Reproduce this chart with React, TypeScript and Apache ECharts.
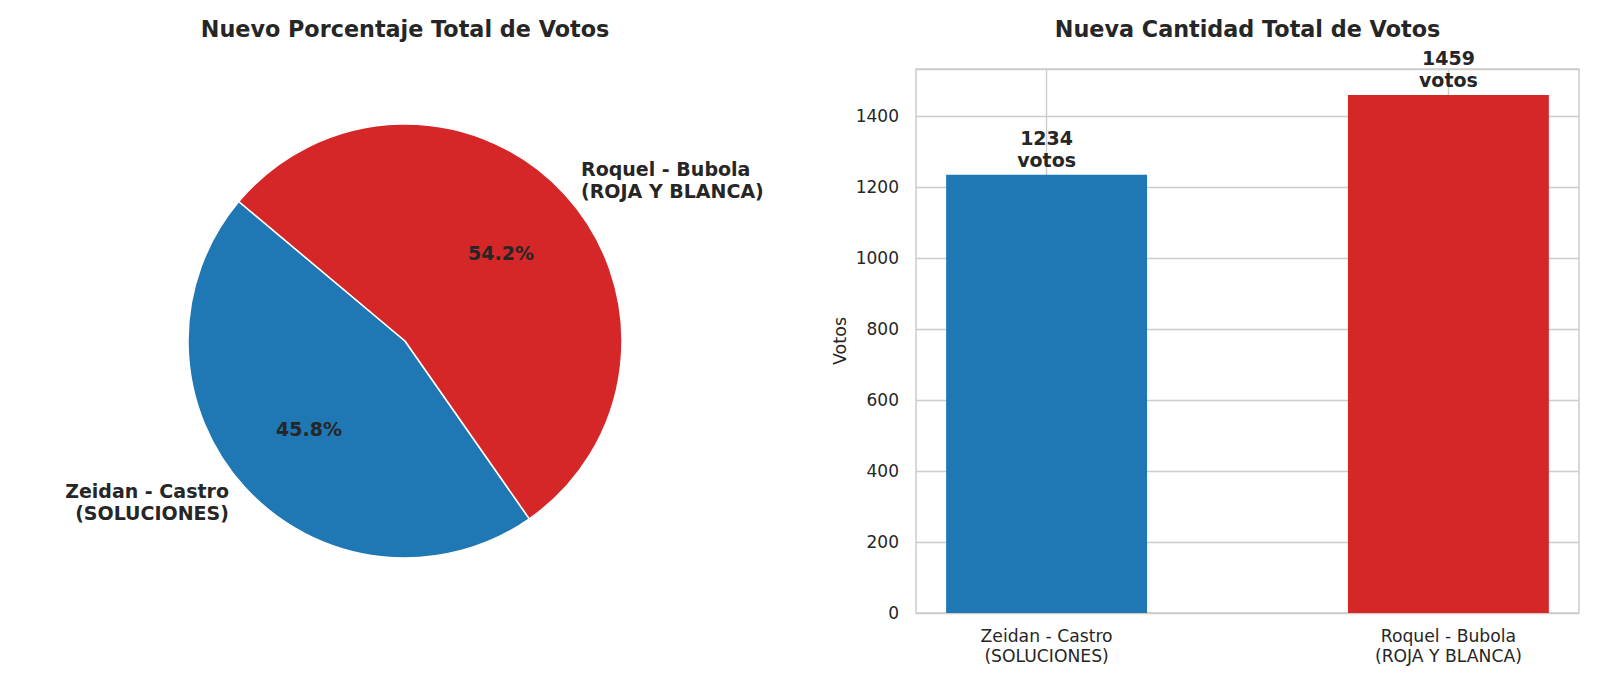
import React, { useEffect, useRef } from "react";
import * as echarts from "echarts";

// Candidates, their vote counts and party colours
const candidates = ["Zeidan - Castro\n(SOLUCIONES)", "Roquel - Bubola\n(ROJA Y BLANCA)"];
const votes = [1234, 1459];
const colors = ["#1f77b4", "#d62728"];
const positions = [0, 1];

const pieTitle = "Nuevo Porcentaje Total de Votos";
const barTitle = "Nueva Cantidad Total de Votos";
const yAxisName = "Votos";

const FONT = "DejaVu Sans";
const TEXT = "#262626";

export default function App() {
  const ref = useRef<HTMLDivElement>(null);

  useEffect(() => {
    document.body.style.margin = "0";
    if (!ref.current) return;
    const chart = echarts.init(ref.current, undefined, { renderer: "svg" });

    const pieCenter = [405, 341];
    const pieR = 217;

    const pieData = candidates.map((name, i) => ({
      name,
      value: votes[i],
      itemStyle: { color: colors[i] },
    }));

    const barData = positions.map((x, i) => ({
      value: [x, votes[i]],
      itemStyle: { color: colors[i] },
    }));

    const titleStyle = { fontFamily: FONT, fontSize: 22.3, fontWeight: "bold", color: TEXT };

    chart.setOption({
      animation: false,
      backgroundColor: "#ffffff",
      textStyle: { fontFamily: FONT },
      title: [
        { text: pieTitle, left: 405, top: 18, padding: 0, textAlign: "center", textStyle: titleStyle },
        { text: barTitle, left: 1247.5, top: 18, padding: 0, textAlign: "center", textStyle: titleStyle },
      ],
      grid: {
        left: 916,
        right: 21,
        top: 69,
        bottom: 73,
        show: true,
        borderColor: "#cccccc",
        borderWidth: 1.5,
        backgroundColor: "#ffffff",
      },
      xAxis: {
        type: "value",
        min: -0.325,
        max: 1.325,
        axisLine: { show: false },
        axisTick: { show: false, customValues: positions },
        splitLine: { show: true, lineStyle: { color: "#cccccc", width: 1.4 } },
        axisLabel: {
          customValues: positions,
          formatter: (v: number) => candidates[Math.round(v)] ?? "",
          fontFamily: FONT,
          fontSize: 17.2,
          lineHeight: 20,
          color: TEXT,
          margin: 13,
        },
      },
      yAxis: {
        type: "value",
        min: 0,
        max: Math.max(...votes) * 1.05,
        interval: 200,
        name: yAxisName,
        nameLocation: "middle",
        nameRotate: 90,
        nameGap: 67,
        nameTextStyle: { fontFamily: FONT, fontSize: 17.5, color: TEXT },
        axisLine: { show: false },
        axisTick: { show: false },
        splitLine: { show: true, lineStyle: { color: "#cccccc", width: 1.4 } },
        axisLabel: {
          showMaxLabel: false,
          formatter: (v: number) => String(v),
          fontFamily: FONT,
          fontSize: 17,
          color: TEXT,
          margin: 17,
        },
      },
      series: [
        {
          type: "pie",
          center: pieCenter,
          radius: [0, pieR],
          startAngle: 140,
          clockwise: false,
          avoidLabelOverlap: false,
          silent: true,
          data: pieData,
          itemStyle: { borderColor: "#ffffff", borderWidth: 1.5 },
          label: {
            show: true,
            position: "outside",
            formatter: "{b}",
            fontFamily: FONT,
            fontSize: 19,
            fontWeight: "bold",
            lineHeight: 22.5,
            padding: [0, 0, 3, 0],
            color: TEXT,
            distanceToLabelLine: 0,
          },
          labelLine: { show: false, length: pieR * 0.1, length2: 0 },
          emphasis: { disabled: true },
        },
        {
          // percentage labels, placed at 0.6 of the pie radius
          type: "pie",
          center: pieCenter,
          radius: [0, 254.4],
          startAngle: 140,
          clockwise: false,
          avoidLabelOverlap: false,
          silent: true,
          percentPrecision: 1,
          data: pieData.map((d) => ({ ...d, itemStyle: { color: "rgba(0,0,0,0)" } })),
          label: {
            show: true,
            position: "inside",
            formatter: "{d}%",
            fontFamily: FONT,
            fontSize: 19,
            fontWeight: "bold",
            color: TEXT,
          },
          labelLine: { show: false },
          emphasis: { disabled: true },
        },
        {
          type: "bar",
          data: barData,
          barWidth: "50%",
          silent: true,
          label: {
            show: true,
            position: "top",
            distance: 4,
            formatter: (p: any) => `${p.value[1]}\nvotos`,
            fontFamily: FONT,
            fontSize: 19,
            fontWeight: "bold",
            lineHeight: 22,
            color: TEXT,
          },
          emphasis: { disabled: true },
        },
      ],
    });

    return () => chart.dispose();
  }, []);

  return <div ref={ref} style={{ width: 1600, height: 686 }} />;
}
